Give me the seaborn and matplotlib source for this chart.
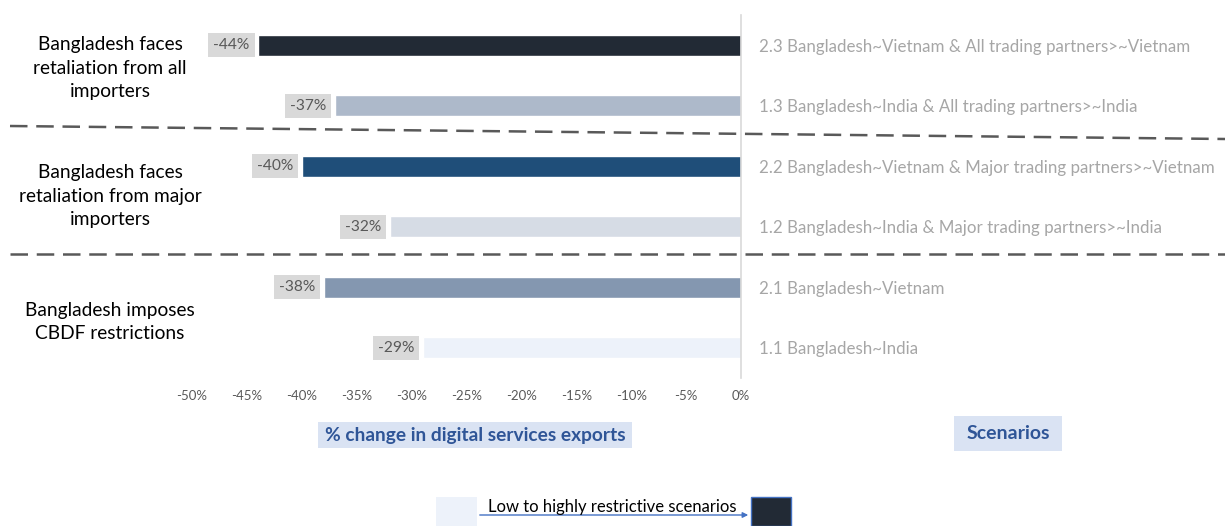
import matplotlib
matplotlib.use("Agg")
import matplotlib.pyplot as plt
from matplotlib.lines import Line2D
from matplotlib.patches import Rectangle, FancyArrowPatch
import seaborn as sns
import pandas as pd

# Scenario results (% change in digital services exports)
scenarios = [
    "2.3 Bangladesh~Vietnam & All trading partners>~Vietnam",
    "1.3 Bangladesh~India & All trading partners>~India",
    "2.2 Bangladesh~Vietnam & Major trading partners>~Vietnam",
    "1.2 Bangladesh~India & Major trading partners>~India",
    "2.1 Bangladesh~Vietnam",
    "1.1 Bangladesh~India",
]
changes = [-44, -37, -40, -32, -38, -29]
bar_colors = ["#222a35", "#adb9ca", "#1f4e79", "#d6dce5", "#8497b0", "#edf2fa"]
group_labels = [
    "Bangladesh faces\nretaliation from all\nimporters",
    "Bangladesh faces\nretaliation from major\nimporters",
    "Bangladesh imposes\nCBDF restrictions",
]
x_ticks = [-50, -45, -40, -35, -30, -25, -20, -15, -10, -5, 0]

sns.set_theme(style="white")
plt.rcParams["font.family"] = ["Lato", "DejaVu Sans"]

W, H = 1225, 526
fig = plt.figure(figsize=(W / 100, H / 100), dpi=100)

def fx(px):
    return px / W

def fy(py):
    return 1 - py / H

def fig_box(x0, y0, x1, y1, **kw):
    # rectangle given in pixel corners (top-left origin)
    fig.add_artist(Rectangle((fx(x0), fy(y1)), fx(x1) - fx(x0), fy(y0) - fy(y1),
                             transform=fig.transFigure, **kw))

ax = fig.add_axes([fx(192), fy(378), fx(741) - fx(192), fy(15) - fy(378)])

df = pd.DataFrame({"scenario": scenarios, "change": changes})
sns.barplot(data=df, x="change", y="scenario", hue="scenario",
            palette=bar_colors, legend=False, width=0.34, ax=ax,
            saturation=1, orient="h")

ax.set_xlim(-50, 0)
ax.set_ylim(5.5, -0.5)
ax.set_xlabel("")
ax.set_ylabel("")
ax.set_xticks(x_ticks)
ax.set_xticklabels([f"{t}%" for t in x_ticks], color="#595959", fontsize=9.5)
ax.tick_params(axis="x", length=0, pad=9)
ax.yaxis.tick_right()
ax.tick_params(axis="y", length=0, pad=13, labelsize=12.2, labelcolor="#a6a6a6")
for lbl in ax.get_yticklabels():
    lbl.set_horizontalalignment("left")

for side in ["top", "left", "bottom"]:
    ax.spines[side].set_visible(False)
ax.spines["right"].set_color("#d9d9d9")
ax.spines["right"].set_linewidth(1.2)

# Value labels in grey boxes to the left of each bar end
for i, v in enumerate(changes):
    ax.annotate(f"{v}%", xy=(v, i), xytext=(-6, 0), textcoords="offset points",
                ha="right", va="center", fontsize=11.2, color="#595959",
                bbox=dict(boxstyle="square,pad=0.32", fc="#d9d9d9", ec="none"))

# Group labels on the left
for (txt, py) in zip(group_labels, [68, 196, 322]):
    fig.text(fx(110), fy(py), txt, ha="center", va="center", fontsize=13.8,
             color="#000000", linespacing=1.45)

# Dashed separators between groups
fig.add_artist(Line2D([fx(10), fx(1225)], [fy(126), fy(139)], color="#595959",
                      lw=1.8, ls=(0, (7, 3.5)), transform=fig.transFigure))
fig.add_artist(Line2D([fx(10), fx(1225)], [fy(254), fy(254)], color="#595959",
                      lw=1.8, ls=(0, (7, 3.5)), transform=fig.transFigure))

# Axis titles in shaded boxes
fig_box(318, 422, 632, 448, fc="#dae3f3", ec="none")
fig.text(fx(475), fy(435.5), "% change in digital services exports", ha="center",
         va="center", fontsize=13.8, fontweight="bold", color="#2f5597")
fig_box(954, 416, 1062, 451, fc="#dae3f3", ec="none")
fig.text(fx(1008), fy(433.5), "Scenarios", ha="center", va="center",
         fontsize=14, fontweight="bold", color="#2f5597")

# Colour key: light to dark
fig_box(436, 497, 477, 526, fc=bar_colors[-1], ec="none")
fig_box(751, 497, 791, 526, fc=bar_colors[0], ec="#4472c4", lw=1)
fig.add_artist(FancyArrowPatch((fx(477), fy(515)), (fx(751), fy(515)),
                               arrowstyle="-|>", mutation_scale=8, color="#4472c4",
                               lw=1, transform=fig.transFigure))
fig.text(fx(612), fy(507), "Low to highly restrictive scenarios", ha="center",
         va="center", fontsize=12, color="#000000")

fig.savefig("out.png", dpi=100)
